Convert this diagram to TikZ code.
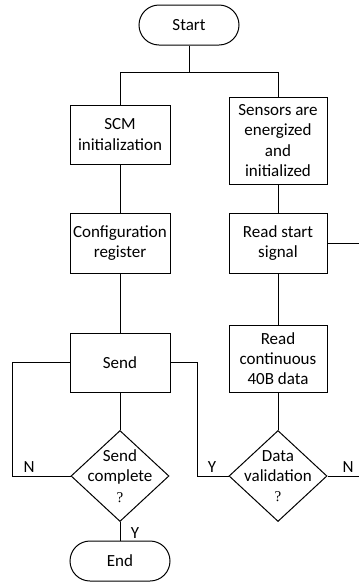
\documentclass[tikz,border=0pt]{standalone}
\usepackage{fontspec}
\setmainfont{Carlito}
\newfontfamily\qfont{Liberation Serif}
\usetikzlibrary{shapes.misc,shapes.geometric}
\begin{document}
\begin{tikzpicture}[x=1pt,y=-1pt,
  every node/.style={font=\fontsize{17}{20.3}\selectfont},
  every label/.style={align=center,inner sep=0pt,font=\fontsize{17}{20.3}\selectfont},
  base/.style={draw,line width=1pt,inner sep=0pt,align=center},
  term/.style={base,rounded rectangle,minimum width=100pt,minimum height=40pt},
  proc/.style={base,rectangle,minimum width=100pt},
  dec/.style={base,diamond,minimum width=98pt,minimum height=91pt},
  wire/.style={line width=1pt},
  yn/.style={font=\fontsize{17}{18}\selectfont,inner sep=0pt}]
\useasboundingbox (0,0) rectangle (359,582);
\node[term] (start) at (189,25) {Start};
\node[proc,minimum height=59pt] (scm) at (120,134.5) {SCM\\initialization};
\node[proc,minimum width=98pt,minimum height=87pt] (sens) at (278,140.5) {Sensors are\\energized\\and\\initialized};
\node[proc,minimum height=60pt] (conf) at (120,243) {Configuration\\register};
\node[proc,minimum width=98pt,minimum height=60pt] (rss) at (278,243) {Read start\\signal};
\node[proc,minimum height=59pt] (send) at (120,362.5) {Send};
\node[proc,minimum width=98pt,minimum height=67pt] (rcd) at (278,358.5) {Read\\continuous\\40B data};
\node[dec,label={center:Send\\complete\\{\qfont\fontsize{15}{14}\selectfont ?}}] (sc) at (120,476) {};
\node[dec,label={center:Data\\validation\\{\qfont\fontsize{15}{14}\selectfont ?}}] (dv) at (278,476) {};
\node[term] (end) at (120,561) {End};
\coordinate (j) at (189,72);
\coordinate (r1) at (359,243);
\coordinate (r2) at (359,476);
\draw[wire] (start.south) -- (j);
\draw[wire] (j) -| (scm.north);
\draw[wire] (j) -| (sens.north);
\draw[wire] (scm) -- (conf);
\draw[wire] (sens) -- (rss);
\draw[wire] (conf) -- (send);
\draw[wire] (rss) -- (rcd);
\draw[wire] (send) -- (sc);
\draw[wire] (rcd) -- (dv);
\draw[wire] (sc) -- (end);
\draw[wire] (send.west) -- ++(-57,0) |- (sc.west);
\draw[wire] (send.east) -- ++(27,0) |- (dv.west);
\draw[wire] (rss.east) -- (r1);
\draw[wire] (dv.east) -- (r2);
\node[yn] (nl) at (29,467) {N};
\node[yn] (yl) at (212,467) {Y};
\node[yn] (nr) at (348,467) {N};
\node[yn] (yb) at (135,533) {Y};
\end{tikzpicture}
\end{document}
